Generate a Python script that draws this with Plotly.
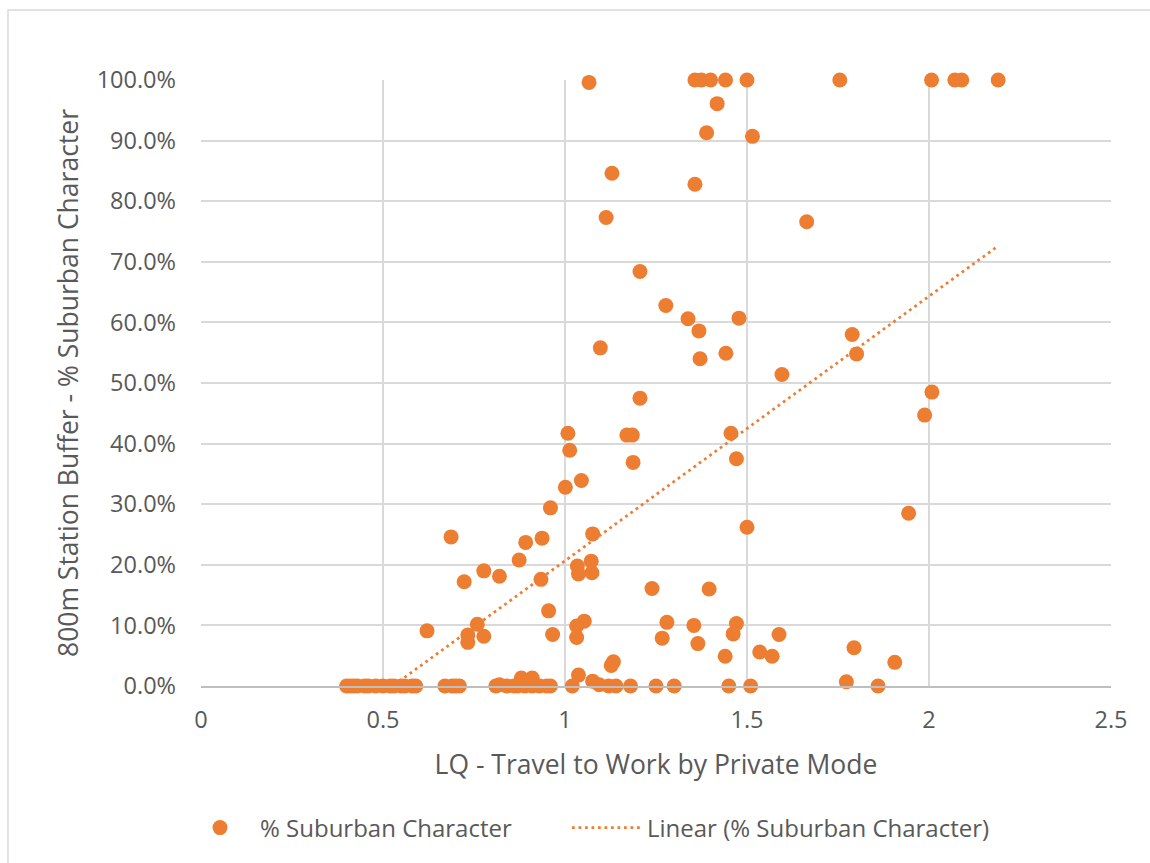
import numpy as np
import plotly.graph_objects as go

# LQ - Travel to Work by Private Mode
lq = [
    0.40, 0.41, 0.42, 0.43, 0.45, 0.46, 0.48, 0.50, 0.52, 0.53, 0.55, 0.56, 0.58, 0.59,
    0.67, 0.69, 0.70, 0.71,
    0.81, 0.82, 0.84, 0.86, 0.87, 0.88, 0.89, 0.91, 0.91, 0.93, 0.95, 0.96,
    1.02, 1.076, 1.094, 1.12, 1.14, 1.18, 1.25, 1.30, 1.45, 1.51, 1.773, 1.86,
    1.066, 1.357, 1.375, 1.400, 1.441, 1.500, 1.755, 2.007, 2.071, 2.090, 2.190,
    1.418, 1.389, 1.515, 1.129, 1.357, 1.113, 1.664, 1.206, 1.277,
    1.338, 1.478, 1.368, 1.097, 1.442, 1.371, 1.596, 1.789, 1.801, 1.206,
    2.008, 1.988, 1.008, 1.170, 1.185, 1.456, 1.013, 1.187, 1.471, 1.045,
    1.001, 0.960, 1.944, 1.500,
    0.687, 1.076, 0.892, 0.937, 0.874, 0.777, 0.820, 0.723, 0.934, 1.034,
    1.072, 1.037, 1.074, 0.955, 0.621, 0.759, 0.733, 0.733, 0.777, 0.966,
    1.032, 1.053, 1.032, 1.133, 1.127, 1.037,
    1.239, 1.396, 1.280, 1.354, 1.471, 1.462, 1.267, 1.365, 1.588, 1.440,
    1.535, 1.569, 1.794, 1.906,
]

# 800m Station Buffer - % Suburban Character
suburban = [
    0, 0, 0, 0, 0, 0, 0, 0, 0, 0, 0, 0, 0, 0,
    0, 0, 0, 0,
    0, 0.002, 0, 0, 0, 0.013, 0, 0.013, 0, 0, 0, 0,
    0, 0.008, 0.002, 0, 0, 0, 0, 0, 0, 0, 0.007, 0,
    0.996, 1.0, 1.0, 1.0, 1.0, 1.0, 1.0, 1.0, 1.0, 1.0, 1.0,
    0.961, 0.913, 0.907, 0.846, 0.828, 0.773, 0.766, 0.684, 0.628,
    0.606, 0.607, 0.586, 0.558, 0.549, 0.540, 0.514, 0.580, 0.548, 0.475,
    0.485, 0.447, 0.417, 0.414, 0.414, 0.417, 0.389, 0.369, 0.375, 0.339,
    0.328, 0.294, 0.285, 0.262,
    0.246, 0.251, 0.237, 0.244, 0.208, 0.190, 0.181, 0.172, 0.176, 0.198,
    0.206, 0.185, 0.187, 0.124, 0.091, 0.102, 0.084, 0.072, 0.082, 0.085,
    0.099, 0.107, 0.080, 0.040, 0.034, 0.018,
    0.161, 0.160, 0.105, 0.100, 0.103, 0.086, 0.079, 0.070, 0.085, 0.049,
    0.056, 0.049, 0.063, 0.039,
]

series_name = "% Suburban Character"
trend_name = "Linear (% Suburban Character)"
x_ticks = [0, 0.5, 1, 1.5, 2, 2.5]
x_tick_labels = ["0", "0.5", "1", "1.5", "2", "2.5"]
y_ticks = [i / 10 for i in range(11)]

ORANGE = "#ED7D31"
GREY_TXT = "#595959"
GRID = "#D9D9D9"
FONT = "Open Sans"

x = np.array(lq)
y = np.array(suburban)
slope, intercept = np.polyfit(x, y, 1)
tx = np.array([x.min(), x.max()])
ty = slope * tx + intercept

fig = go.Figure()
fig.add_trace(go.Scatter(
    x=lq, y=suburban, mode="markers", name=series_name,
    marker=dict(color=ORANGE, size=15, line=dict(width=0)),
    cliponaxis=False, legend="legend",
))
fig.add_trace(go.Scatter(
    x=tx, y=ty, mode="lines", name=trend_name,
    line=dict(color=ORANGE, width=2.75, dash="2.75px,3.75px"),
    hoverinfo="skip", legend="legend2",
))

legend_common = dict(
    orientation="h", xanchor="left",
    y=-(828 - 686) / 606, yanchor="middle",
    font=dict(family=FONT, size=24, color=GREY_TXT),
    itemwidth=70, bgcolor="rgba(0,0,0,0)",
)

fig.update_layout(
    width=1150, height=863,
    margin=dict(l=201, r=39, t=80, b=177, autoexpand=False),
    paper_bgcolor="white", plot_bgcolor="white",
    font=dict(family=FONT, color=GREY_TXT, size=20),
    showlegend=True,
    legend=dict(legend_common, x=(180 - 201) / 910),
    legend2=dict(legend_common, x=(567 - 201) / 910),
    xaxis=dict(
        range=[0, 2.5], tickvals=x_ticks, ticktext=x_tick_labels,
        showgrid=True, gridcolor=GRID, gridwidth=1.5, zeroline=False,
        showline=True, linecolor="#BFBFBF", linewidth=1.5,
        ticks="", tickfont=dict(size=23.5, color=GREY_TXT), ticklabelstandoff=12,
        title=dict(text="LQ - Travel to Work by Private Mode",
                   font=dict(size=26.5, color=GREY_TXT), standoff=21),
    ),
    yaxis=dict(
        range=[0, 1], tickvals=y_ticks, tickformat=".1%",
        showgrid=True, gridcolor=GRID, gridwidth=1.5, zeroline=False,
        ticks="", tickfont=dict(size=23.5, color=GREY_TXT), ticklabelstandoff=24,
        title=dict(text="800m Station Buffer - % Suburban Character",
                   font=dict(size=26.5, color=GREY_TXT), standoff=10),
    ),
    shapes=[dict(type="rect", xref="paper", yref="paper",
                 x0=-0.2121, x1=1.06, y0=-0.35, y1=1.1155,
                 line=dict(color=GRID, width=1.5), fillcolor="rgba(0,0,0,0)",
                 layer="below")],
)

fig.write_html("out.html", config={"displayModeBar": False},
               post_script="document.body.style.margin='0';document.body.style.overflow='hidden';")
